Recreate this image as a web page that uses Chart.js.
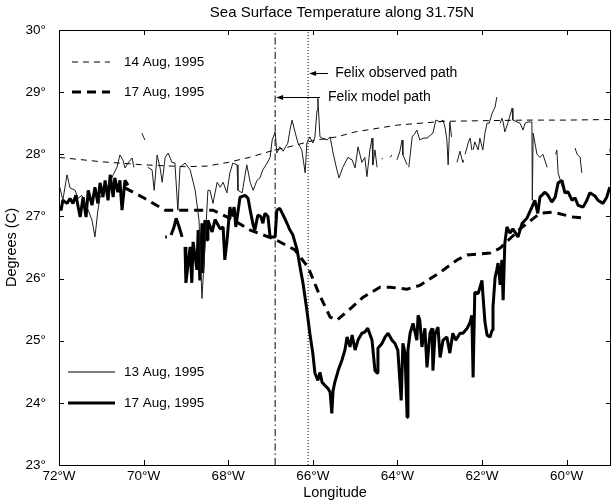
<!DOCTYPE html>
<html>
<head>
<meta charset="utf-8">
<title>Sea Surface Temperature along 31.75N</title>
<script src="https://cdn.jsdelivr.net/npm/chart.js@4.4.1/dist/chart.umd.min.js"></script>
<style>
    html, body { margin: 0; padding: 0; background: #fff; }
    canvas { display: block; }
</style>
</head>
<body>
<canvas id="sstChart" width="613" height="504"></canvas>
<script>
// --- data (longitude in degrees W, temperature in degrees C; null = gap in the record) ---

const xTicks = [72, 70, 68, 66, 64, 62, 60];
const yTicks = [23, 24, 25, 26, 27, 28, 29, 30];

// 13 Aug, 1995 observed (thin solid)
const aug13Lon = [
    71.98, 71.91, 71.81, 71.74, 71.62, 71.55, 71.46, 71.39, 71.31, 71.22, 71.15, 71.08, 71.03, 70.96, 70.87,
    70.79, 70.72, 70.63, 70.56, 70.49, 70.44, 70.37, 70.27, 70.23, 70.13, 70.04, 69.97, 69.93, 69.90, 69.80,
    69.75, 69.68, 69.61, 69.56, 69.49, 69.42, 69.33, 69.26, 69.19, 69.14, 69.02, 68.90, 68.78, 68.69, 68.62,
    68.55, 68.48, 68.43, 68.36, 68.26, 68.19, 68.12, 68.03, 67.96, 67.89, 67.79, 67.77, 67.67, 67.60, 67.56,
    67.48, 67.41, 67.32, 67.25, 67.18, 67.08, 67.01, 66.96, 66.89, 66.85, 66.78, 66.70, 66.66, 66.59, 66.54,
    66.49, 66.42, 66.35, 66.26, 66.18, 66.14, 66.07, 66.00, 65.95, 65.90, 65.88, 65.83, 65.78, 65.66, 65.59,
    65.52, 65.43, 65.38, 65.29, 65.17, 65.07, 65.00, 64.93, 64.84, 64.77, 64.72, 64.65, 64.60, 64.58, 64.53,
    64.48, 64.42, 64.37, 64.35, 64.25, 64.17, 64.13, 64.07, 64.01, 63.94, 63.89, 63.87, 63.77, 63.75, 63.73,
    63.65, 63.58, 63.54, 63.47, 63.39, 63.30, 63.23, 63.16, 63.09, 62.99, 62.92, 62.87, 62.83, 62.80, 62.76,
    62.72, 62.65, 62.59, 62.52, 62.47, 62.45, 62.42, 62.40, 62.35, 62.33, 62.28, 62.24, 62.22, 62.21, 62.17,
    62.09, 62.05, 62.00, 61.98, 61.93, 61.88, 61.83, 61.76, 61.69, 61.65, 61.61, 61.57, 61.53, 61.50, 61.46,
    61.39, 61.29, 61.27, 61.17, 61.10, 61.03, 60.98, 60.91, 60.82, 60.81, 60.79, 60.70, 60.63, 60.56, 60.46,
    60.36, 60.26, 60.23, 60.20, 60.09, 59.95, 59.80, 59.75, 59.68, 59.64, 59.30, 58.98, 58.95
];
const aug13Temp = [
    27.47, 27.26, 27.67, 27.46, 27.42, 27.29, 27.34, 27.21, 27.10, 26.94, 26.67, 27.10, 27.31, 27.39, 27.47,
    27.55, 27.67, 27.79, 27.99, 27.91, 27.78, 27.86, 27.94, 27.79, null, 28.34, 28.23, null, 27.79, 27.75,
    27.42, 27.99, 27.78, 27.55, 27.95, 28.02, 27.87, 27.86, 27.10, 27.79, 27.86, 27.75, 27.42, 26.94, 25.68,
    26.51, 27.42, 27.42, 27.21, 27.55, 27.47, 27.55, 27.38, 27.70, 27.86, 27.83, 27.42, 27.38, 27.67, 27.83,
    27.55, 27.42, 27.58, 27.62, 27.75, 27.86, 27.95, 28.23, 28.36, 28.02, 28.12, 28.05, 28.10, 28.18, 28.39,
    28.55, 28.36, 28.18, 28.07, 27.70, 28.18, 28.28, 28.18, 28.28, 28.71, 28.90, 28.28, 28.26, 28.23, 28.28,
    28.02, 27.75, 27.62, 27.79, 27.95, 27.91, 27.78, 28.12, 27.87, 27.95, 27.64, 28.07, 28.26, 27.83, 28.07,
    27.79, null, 27.94, 27.92, null, 27.95, 27.99, null, 27.91, 28.05, 28.23, 27.99, 27.83, null, 27.79,
    28.28, 28.34, 28.39, 28.23, 28.26, 28.26, 28.30, 28.34, 28.55, 28.52, 28.55, 28.42, 28.23, 27.83, 28.52,
    28.28, null, 27.87, 28.05, 27.91, 27.87, null, 28.00, 28.12, 28.18, 28.26, 28.07, null, 28.07, 28.20,
    28.07, 28.26, 28.12, 28.07, 28.34, 28.50, 28.50, 28.66, 28.76, 28.92, null, 28.50, 28.58, 28.52, 28.36,
    28.50, 28.74, 28.55, 28.52, 28.50, 28.39, 28.50, 28.52, 28.52, 27.26, 28.34, 28.00, 27.95, 28.00, 27.79,
    null, 28.00, 28.07, 27.70, 27.45, null, 28.10, 28.00, 27.95, 27.70, null, 28.05, 28.15
];

// 17 Aug, 1995 observed (thick solid)
const aug17Lon = [
    72.00, 71.95, 71.91, 71.81, 71.74, 71.67, 71.60, 71.50, 71.43, 71.36, 71.31, 71.22, 71.15, 71.08, 71.03,
    70.96, 70.91, 70.84, 70.79, 70.72, 70.68, 70.61, 70.56, 70.51, 70.44, 70.37, 70.00, 69.49, 69.45, 69.40,
    69.35, 69.28, 69.23, 69.16, 69.09, 69.05, 69.02, 69.00, 68.90, 68.86, 68.83, 68.74, 68.71, 68.67, 68.62,
    68.60, 68.55, 68.50, 68.48, 68.38, 68.31, 68.19, 68.12, 68.08, 68.03, 68.00, 67.96, 67.91, 67.86, 67.82,
    67.72, 67.60, 67.53, 67.48, 67.41, 67.37, 67.30, 67.23, 67.18, 67.13, 67.06, 67.01, 66.89, 66.85, 66.78,
    66.70, 66.61, 66.54, 66.47, 66.37, 66.30, 66.23, 66.14, 66.07, 66.00, 65.95, 65.88, 65.83, 65.78, 65.71,
    65.64, 65.59, 65.55, 65.52, 65.48, 65.40, 65.31, 65.24, 65.19, 65.12, 65.07, 65.00, 64.93, 64.84, 64.77,
    64.70, 64.60, 64.53, 64.48, 64.46, 64.36, 64.29, 64.22, 64.13, 64.06, 63.99, 63.91, 63.87, 63.82, 63.77,
    63.75, 63.70, 63.63, 63.54, 63.51, 63.47, 63.42, 63.35, 63.30, 63.23, 63.18, 63.16, 63.11, 63.04, 62.99,
    62.92, 62.83, 62.76, 62.69, 62.62, 62.52, 62.45, 62.35, 62.28, 62.24, 62.21, 62.17, 62.09, 62.00, 61.98,
    61.93, 61.88, 61.81, 61.76, 61.74, 61.69, 61.65, 61.62, 61.57, 61.53, 61.50, 61.46, 61.41, 61.34, 61.27,
    61.15, 61.05, 60.94, 60.82, 60.75, 60.68, 60.63, 60.51, 60.44, 60.35, 60.27, 60.20, 60.11, 60.04, 59.97,
    59.87, 59.80, 59.73, 59.61, 59.52, 59.45, 59.33, 59.26, 59.14, 59.05, 58.98
];
const aug17Temp = [
    27.15, 27.10, 27.26, 27.21, 27.29, 27.21, 27.34, 26.99, 27.31, 26.99, 27.42, 27.18, 27.47, 27.21, 27.54,
    27.31, 27.58, 27.26, 27.67, 27.31, 27.62, 27.39, 27.58, 27.10, 27.58, 27.50, null, 26.67, 26.67, null,
    26.70, 26.83, 26.97, 26.83, 26.67, null, 26.51, 25.93, 26.51, 25.93, 26.59, 26.14, 26.78, 25.97, 26.89,
    26.09, 26.94, 26.62, 26.94, 26.75, 26.95, 26.80, 26.83, 26.30, 26.60, 26.83, 27.15, 27.00, 27.15, 26.83,
    27.31, 27.34, 27.29, 27.10, 26.86, 26.78, 27.02, 27.00, 26.89, 27.05, 27.00, 26.67, 26.67, 27.10, 27.13,
    27.02, 26.89, 26.78, 26.70, 26.46, 26.18, 25.92, 25.49, 25.12, 24.80, 24.48, 24.36, 24.49, 24.33, 24.28,
    24.23, 24.17, 23.83, 24.20, 24.33, 24.52, 24.69, 24.85, 25.06, 24.90, 25.09, 24.85, 25.01, 25.12, 25.14,
    25.20, 25.01, 24.52, 24.48, 24.88, 24.96, 25.06, 25.12, 25.01, 24.96, 24.85, 24.04, 24.96, 24.80, 23.77,
    24.85, 25.12, 25.28, 25.01, 25.41, 25.33, 24.90, 25.20, 24.57, 25.12, 25.20, 24.52, 25.10, 25.22, 24.73,
    25.01, 25.06, 24.80, 25.12, 25.01, 25.12, 25.12, 25.20, 25.30, 25.41, 24.41, 25.78, 25.76, 25.97, 25.76,
    25.30, 25.09, 25.06, 25.17, 25.54, 26.02, 26.14, 26.25, 25.90, 26.30, 25.65, 26.57, 26.83, 26.73, 26.80,
    26.67, 26.89, 26.97, 27.15, 27.26, 27.05, 27.31, 27.39, 27.34, 27.23, 27.31, 27.54, 27.58, 27.38, 27.40,
    27.26, 27.30, 27.18, 27.15, 27.26, 27.38, 27.33, 27.26, 27.21, 27.31, 27.47
];

// 14 Aug, 1995 model (thin dashed)
const model14Lon = [72.0, 71.0, 70.0, 69.0, 68.5, 68.0, 67.5, 67.0, 66.5, 66.0, 65.43, 65.0, 64.0, 62.92, 62.0, 61.0, 60.0, 58.95];
const model14Temp = [27.95, 27.88, 27.83, 27.80, 27.81, 27.87, 27.95, 28.05, 28.13, 28.22, 28.28, 28.36, 28.47, 28.53, 28.54, 28.55, 28.55, 28.56];

// 17 Aug, 1995 model (thick dashed)
const model17Lon = [
    70.44, 70.0, 69.49, 68.9, 68.36, 67.9, 67.48, 66.89, 66.42, 66.11, 65.85, 65.59, 65.43, 65.07, 64.81,
    64.41, 64.17, 63.77, 63.47, 62.99, 62.59, 62.35, 61.81, 61.57, 61.1, 60.63, 60.32, 59.85, 59.52
];
const model17Temp = [
    27.46, 27.30, 27.10, 27.10, 27.10, 26.95, 26.78, 26.63, 26.46, 26.18, 25.75, 25.38, 25.33, 25.54, 25.70,
    25.86, 25.86, 25.83, 25.89, 26.10, 26.30, 26.38, 26.41, 26.49, 26.80, 27.05, 27.07, 26.99, 26.97
];

// hurricane Felix crossing longitudes
const felixModelLon = 66.89;
const felixObservedLon = 66.11;

const pathArrows = [
    { label: "Felix observed path", fromLon: felixObservedLon, toLon: 65.64, temp: 29.31, textLon: 65.47 },
    { label: "Felix model path", fromLon: felixModelLon, toLon: 65.83, temp: 28.92, textLon: 65.64 },
];

// legend boxes, offsets in px from the plot's top-left corner
const legendEntries = [
    { label: "14 Aug, 1995", width: 1, dash: [6, 5], x0: 13, x1: 51, dy: 32 },
    { label: "17 Aug, 1995", width: 3, dash: [9, 6], x0: 13, x1: 51, dy: 62 },
    { label: "13 Aug, 1995", width: 1, dash: [], x0: 9, x1: 56, dy: 342 },
    { label: "17 Aug, 1995", width: 3, dash: [], x0: 9, x1: 56, dy: 373 },
];

const FONT = "'Liberation Sans', Arial, Helvetica, sans-serif";

const toPoints = (lons, temps) => lons.map((x, i) => ({ x, y: temps[i] }));

/**
 * Draws the boxed frame, inward ticks, Felix path arrows, legends and title.
 */
const decorPlugin = {
    id: "decor",
    afterDatasetsDraw(chart) {
        const { ctx, chartArea: ca, scales } = chart;
        const xs = scales.x;
        const ys = scales.y;
        ctx.save();
        ctx.strokeStyle = "#000";
        ctx.fillStyle = "#000";
        ctx.setLineDash([]);

        // box
        ctx.lineWidth = 1;
        ctx.strokeRect(ca.left + 0.5, ca.top + 0.5, ca.right - ca.left - 1, ca.bottom - ca.top);

        // inward ticks (matlab style)
        const tickLen = 5;
        ctx.beginPath();
        xTicks.forEach((v) => {
            const px = Math.round(xs.getPixelForValue(v)) + 0.5;
            ctx.moveTo(px, ca.bottom);
            ctx.lineTo(px, ca.bottom - tickLen);
            ctx.moveTo(px, ca.top);
            ctx.lineTo(px, ca.top + tickLen);
        });
        yTicks.forEach((v) => {
            const py = Math.round(ys.getPixelForValue(v)) + 0.5;
            ctx.moveTo(ca.left, py);
            ctx.lineTo(ca.left + tickLen, py);
            ctx.moveTo(ca.right, py);
            ctx.lineTo(ca.right - tickLen, py);
        });
        ctx.stroke();

        // Felix path arrows
        ctx.font = `14px ${FONT}`;
        ctx.textBaseline = "middle";
        ctx.textAlign = "left";
        pathArrows.forEach((a) => {
            const x1 = xs.getPixelForValue(a.fromLon) + 1;
            const x2 = xs.getPixelForValue(a.toLon);
            const y = Math.round(ys.getPixelForValue(a.temp)) + 0.5;
            ctx.beginPath();
            ctx.moveTo(x1 + 6, y);
            ctx.lineTo(x2, y);
            ctx.stroke();
            ctx.beginPath();
            ctx.moveTo(x1, y);
            ctx.lineTo(x1 + 7, y - 2.5);
            ctx.lineTo(x1 + 7, y + 2.5);
            ctx.closePath();
            ctx.fill();
            ctx.fillText(a.label, xs.getPixelForValue(a.textLon), y);
        });

        // legends
        ctx.font = `13.5px ${FONT}`;
        legendEntries.forEach((e) => {
            const y = ca.top + e.dy;
            ctx.lineWidth = e.width;
            ctx.setLineDash(e.dash);
            ctx.beginPath();
            ctx.moveTo(ca.left + e.x0, y);
            ctx.lineTo(ca.left + e.x1, y);
            ctx.stroke();
            ctx.fillText(e.label, ca.left + 65, y);
        });
        ctx.setLineDash([]);

        // title
        ctx.font = `15px ${FONT}`;
        ctx.textAlign = "center";
        ctx.fillText("Sea Surface Temperature along 31.75N", 342, 13);
        ctx.restore();
    },
};

const baseLine = { pointRadius: 0, pointHoverRadius: 0, tension: 0, spanGaps: false, fill: false };

const sstChart = new Chart(document.getElementById("sstChart").getContext("2d"), {
    type: "line",
    data: {
        datasets: [
            { ...baseLine, label: "14 Aug, 1995", data: toPoints(model14Lon, model14Temp), borderColor: "#000", borderWidth: 1, borderDash: [6, 5] },
            { ...baseLine, label: "13 Aug, 1995", data: toPoints(aug13Lon, aug13Temp), borderColor: "#1c1c1c", borderWidth: 1 },
            { ...baseLine, label: "17 Aug, 1995", data: toPoints(aug17Lon, aug17Temp), borderColor: "#000", borderWidth: 3, borderJoinStyle: "bevel" },
            { ...baseLine, label: "17 Aug, 1995 model", data: toPoints(model17Lon, model17Temp), borderColor: "#000", borderWidth: 3, borderDash: [9, 6] },
            { ...baseLine, label: "Felix model path", data: [{ x: felixModelLon, y: 23 }, { x: felixModelLon, y: 30 }], borderColor: "#000", borderWidth: 1, borderDash: [7, 3, 1.5, 3] },
            { ...baseLine, label: "Felix observed path", data: [{ x: felixObservedLon, y: 23 }, { x: felixObservedLon, y: 30 }], borderColor: "#000", borderWidth: 1, borderDash: [1, 2] },
        ],
    },
    options: {
        responsive: false,
        animation: false,
        events: [],
        layout: { padding: { top: 30, right: 2, left: 0, bottom: 0 } },
        scales: {
            x: {
                type: "linear",
                reverse: true,
                min: 58.95,
                max: 72,
                afterBuildTicks: (s) => { s.ticks = xTicks.map((value) => ({ value })); },
                afterFit: (s) => { s.height = 39; },
                grid: { display: false, drawTicks: false },
                border: { display: false },
                ticks: {
                    autoSkip: false,
                    maxRotation: 0,
                    padding: 3,
                    color: "#000",
                    font: { family: FONT, size: 13.5 },
                    callback: (v) => `${v}°W`,
                },
                title: { display: true, text: "Longitude", color: "#000", font: { family: FONT, size: 14.5 }, padding: { top: 0, bottom: 2 } },
            },
            y: {
                min: 23,
                max: 30,
                afterBuildTicks: (s) => { s.ticks = yTicks.map((value) => ({ value })); },
                afterFit: (s) => { s.width = 59; },
                grid: { display: false, drawTicks: false },
                border: { display: false },
                ticks: {
                    padding: 13,
                    color: "#000",
                    font: { family: FONT, size: 13.5 },
                    callback: (v) => `${v}°`,
                },
                title: { display: true, text: "Degrees (C)", color: "#000", font: { family: FONT, size: 14.5 }, padding: { top: 3, bottom: 0 } },
            },
        },
        plugins: {
            legend: { display: false },
            tooltip: { enabled: false },
            title: { display: false },
        },
    },
    plugins: [decorPlugin],
});
</script>
</body>
</html>
